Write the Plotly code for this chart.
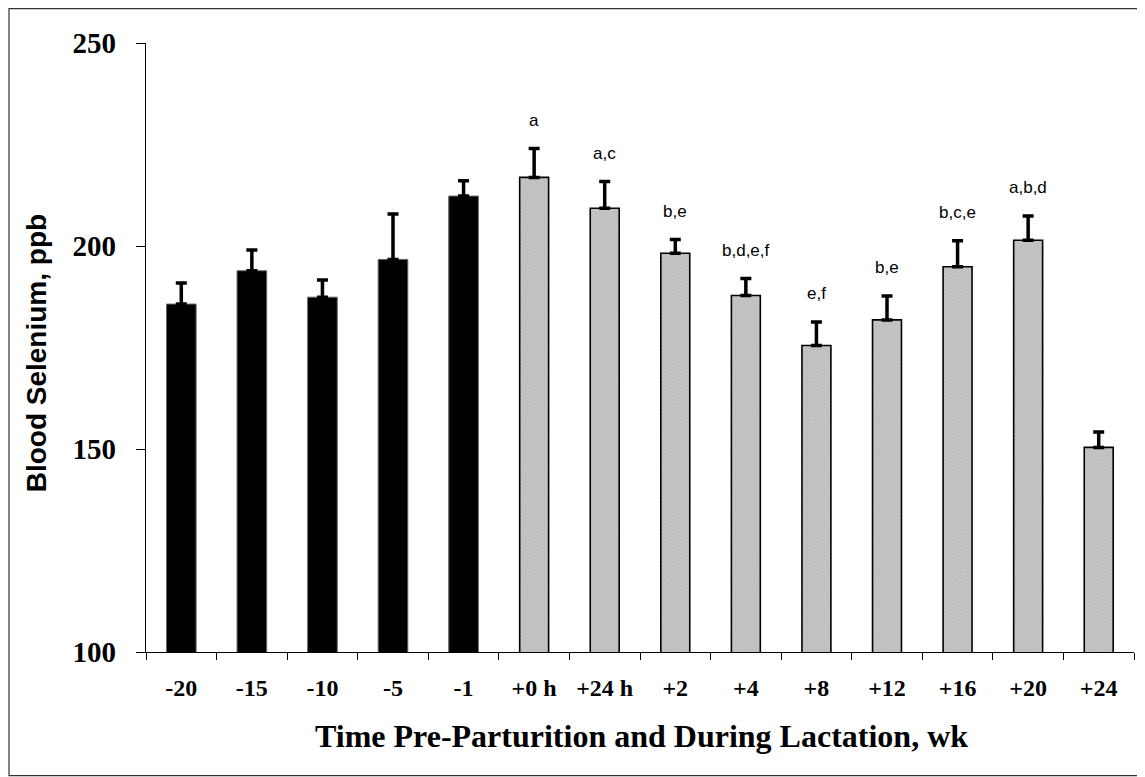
import plotly.graph_objects as go

categories = ["-20", "-15", "-10", "-5", "-1", "+0 h", "+24 h", "+2", "+4",
              "+8", "+12", "+16", "+20", "+24"]
means = [185.7, 193.9, 187.4, 196.7, 212.3, 216.9, 209.3, 198.2, 187.8,
         175.5, 181.8, 194.9, 201.4, 150.4]
errors = [5.2, 5.1, 4.2, 11.2, 3.8, 7.1, 6.6, 3.4, 4.2, 5.8, 5.9, 6.4, 6.0, 3.8]
letters = ["", "", "", "", "", "a", "a,c", "b,e", "b,d,e,f", "e,f", "b,e",
           "b,c,e", "a,b,d", ""]
n_pre = 5  # pre-parturition samples (black bars)

SERIF = "Liberation Serif, Times New Roman, serif"
SANS = "Liberation Sans, Arial, sans-serif"

fig = go.Figure()

fig.add_trace(go.Bar(
    x=categories[:n_pre], y=means[:n_pre],
    width=0.42,
    marker=dict(color="black", line=dict(color="#666666", width=1)),
    error_y=dict(type="data", symmetric=False, array=errors[:n_pre],
                 arrayminus=[0] * n_pre, color="black", thickness=3.5, width=5.5),
    showlegend=False,
))
fig.add_trace(go.Bar(
    x=categories[n_pre:], y=means[n_pre:],
    width=0.41,
    marker=dict(color="#c4c4c4",
                pattern=dict(shape="/", fgcolor="#a4a4a4", bgcolor="#c8c8c8",
                             size=2.5, solidity=0.4),
                line=dict(color="black", width=1.6)),
    error_y=dict(type="data", symmetric=False, array=errors[n_pre:],
                 arrayminus=[0] * (len(categories) - n_pre), color="black",
                 thickness=3.5, width=5.5),
    showlegend=False,
))

for i, (m, e, lab) in enumerate(zip(means, errors, letters)):
    if lab:
        fig.add_annotation(x=i, y=m + e, text=lab, showarrow=False,
                           yshift=28, yanchor="middle",
                           font=dict(family=SANS, size=17, color="black"))

# axis titles
fig.add_annotation(xref="paper", yref="paper", x=-0.1106, y=0.49,
                   text="Blood Selenium, ppb", textangle=-90, showarrow=False,
                   xanchor="center", yanchor="middle",
                   font=dict(family=SANS, size=28, color="black", weight="bold"))
fig.add_annotation(xref="paper", yref="paper", x=0.5015, y=-0.1374,
                   text="Time Pre-Parturition and During Lactation, wk",
                   showarrow=False, xanchor="center", yanchor="middle",
                   font=dict(family=SERIF, size=32, color="black", weight="bold"))

# outer frame (figure px: left 1, right 1136, top 1, bottom 768; plot area 138..1126, 35.3..644.3)
fig.add_shape(type="rect", xref="paper", yref="paper",
              x0=(1 - 138) / 988, x1=(1136 - 138) / 988,
              y0=(644.3 - 768) / 609, y1=(644.3 - 1) / 609,
              line=dict(color="#333333", width=1.2), fillcolor="rgba(0,0,0,0)")

fig.update_layout(
    width=1137, height=769,
    margin=dict(l=138, r=11, t=35.3, b=124.7, pad=0),
    paper_bgcolor="white", plot_bgcolor="white",
    barmode="overlay",
)
fig.update_xaxes(
    type="category", categoryorder="array", categoryarray=categories,
    range=[-0.5, len(categories) - 0.5], automargin=False,
    showline=True, linecolor="black", linewidth=1.2,
    ticks="outside", tickson="boundaries", ticklen=7, tickcolor="black",
    tickwidth=1, showgrid=False, zeroline=False, tickangle=0,
    tickfont=dict(family=SERIF, size=24, color="black", weight="bold"),
    ticklabelstandoff=14,
)
fig.update_yaxes(
    range=[100, 250], tickvals=[100, 150, 200, 250], automargin=False,
    showline=True, linecolor="black", linewidth=1.2,
    ticks="outside", ticklen=9, tickcolor="black", tickwidth=1,
    showgrid=False, zeroline=False,
    tickfont=dict(family=SERIF, size=29, color="black", weight="bold"),
    ticklabelstandoff=14,
)

fig.write_html("out.html")
